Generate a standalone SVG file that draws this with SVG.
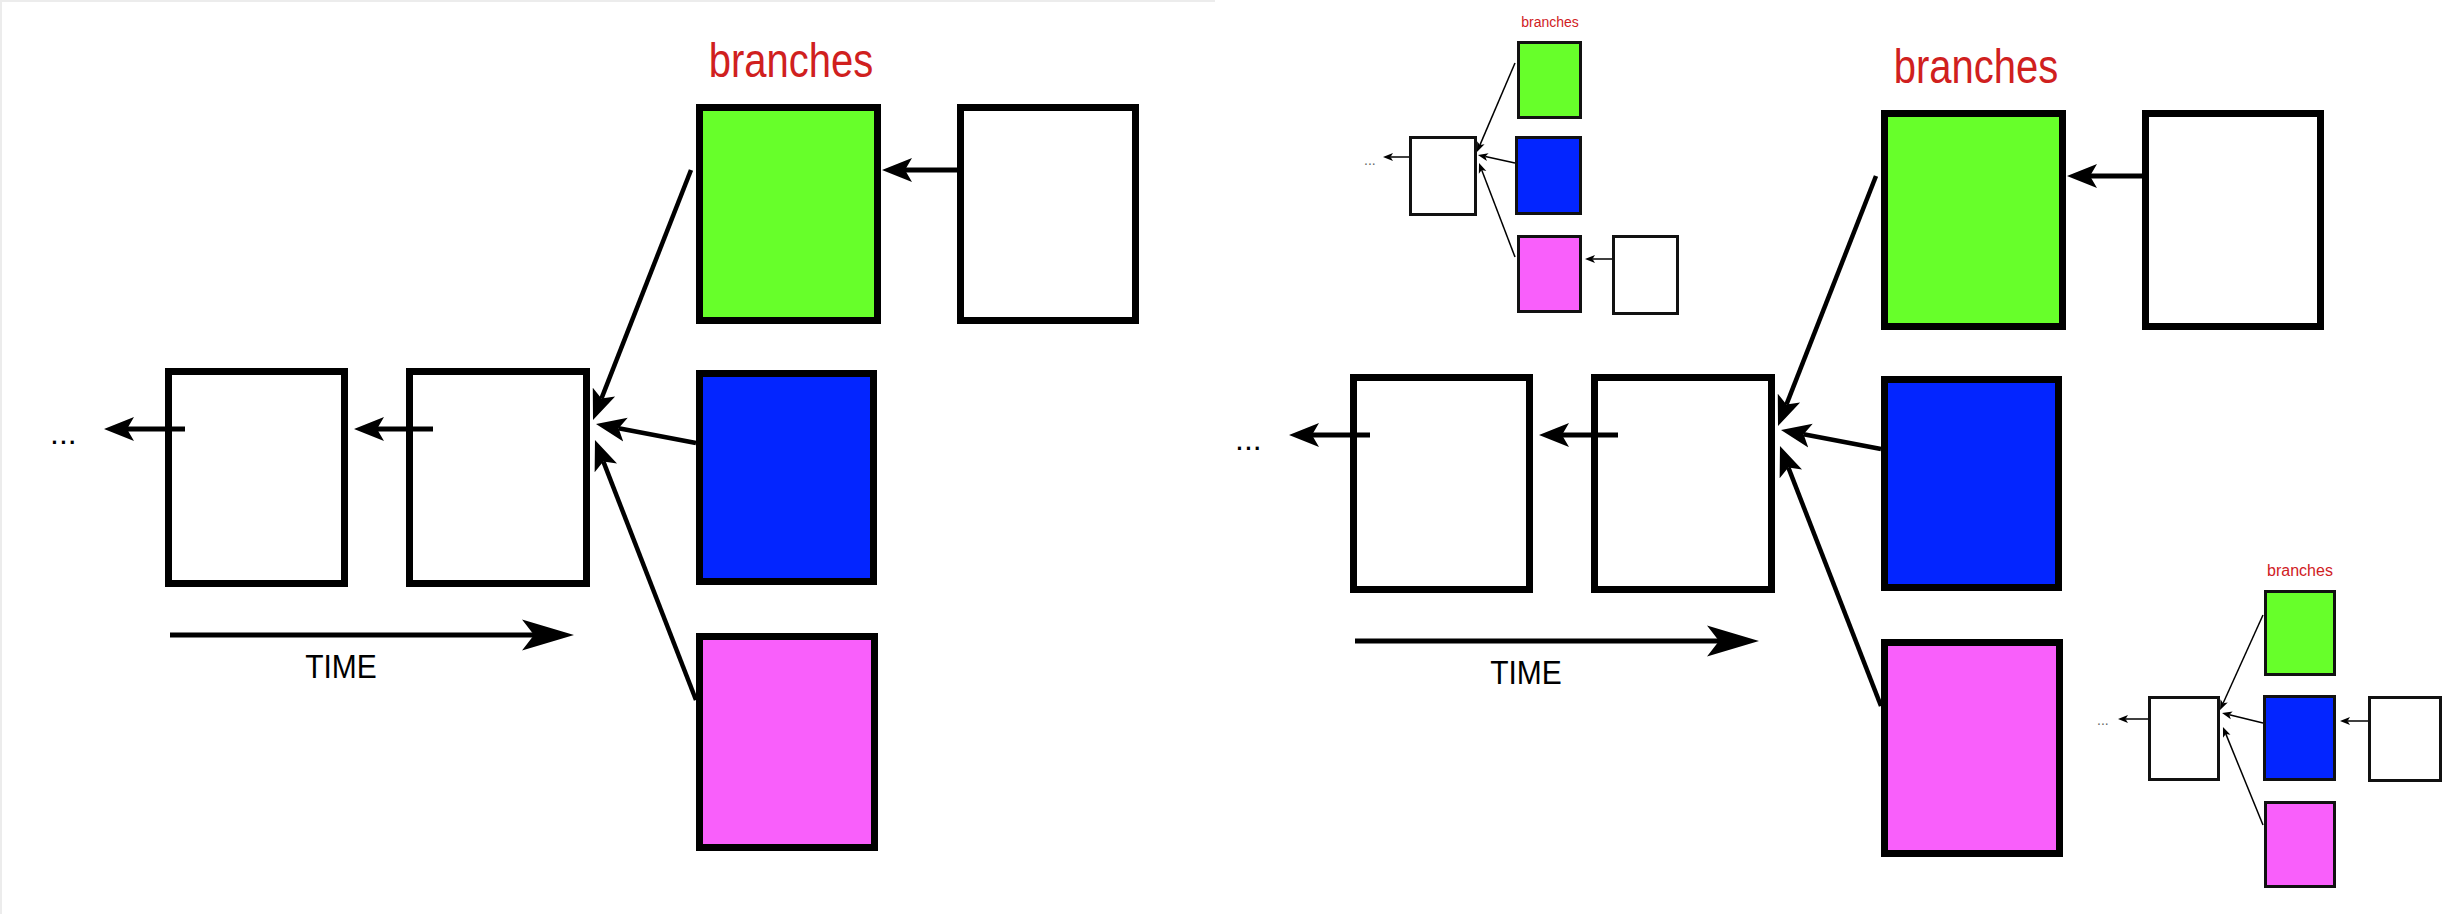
<svg xmlns="http://www.w3.org/2000/svg" width="2459" height="914" viewBox="0 0 2459 914">
<defs>
<style>
.bg{fill:#ffffff}
.box{stroke:#000;stroke-width:7}
.sbox{stroke:#111;stroke-width:3}
.w{fill:#ffffff}
.g{fill:#67ff2a}
.b{fill:#0325ff}
.p{fill:#f95ffb}
.ln{fill:none;stroke:#000;stroke-width:4.5}
.lnh{fill:none;stroke:#000;stroke-width:5}
.sl{fill:none;stroke:#000;stroke-width:1.5}
.red{font-family:"Liberation Sans",Arial,sans-serif;fill:#d0201e;text-anchor:middle}
.blk{font-family:"Liberation Sans",Arial,sans-serif;fill:#000}
</style>
<marker id="ah" markerUnits="userSpaceOnUse" viewBox="0 -13 31 26" markerWidth="31" markerHeight="26" refX="7" refY="0" orient="auto"><path d="M30,0 L0,-12 L7,0 L0,12 Z" fill="#000"/></marker>
<marker id="ah-time" markerUnits="userSpaceOnUse" viewBox="0 -16 53 32" markerWidth="53" markerHeight="32" refX="12" refY="0" orient="auto"><path d="M52,0 L0,-15.5 L12,0 L0,15.5 Z" fill="#000"/></marker>
<marker id="ah-s" markerUnits="userSpaceOnUse" viewBox="0 -5 11 10" markerWidth="11" markerHeight="10" refX="2.5" refY="0" orient="auto"><path d="M10,0 L0,-4 L2.5,0 L0,4 Z" fill="#000"/></marker>
</defs>
<rect class="bg" x="0" y="0" width="2459" height="914"/>
<path d="M1,914 V1 H1215" fill="none" stroke="#ececec" stroke-width="2"/>

<!-- left panel -->
<g id="panel-left">
  <g id="L-ellipsis"><text class="blk" x="50" y="444" font-size="32">...</text></g>
  <g id="L-commit-1"><rect class="box w" x="168.5" y="371.5" width="176" height="212"/></g>
  <g id="L-commit-2"><rect class="box w" x="409.5" y="371.5" width="177" height="212"/></g>
  <g id="L-branches-label"><text class="red" font-size="40" transform="translate(791 77) scale(1 1.2)">branches</text></g>
  <g id="L-green"><rect class="box g" x="699.5" y="107.5" width="178" height="213"/></g>
  <g id="L-green-next"><rect class="box w" x="960.5" y="107.5" width="175" height="213"/></g>
  <g id="L-blue"><rect class="box b" x="699.5" y="373.5" width="174" height="208"/></g>
  <g id="L-pink"><rect class="box p" x="699.5" y="636.5" width="175" height="211"/></g>
  <g id="L-time-label"><text class="blk" font-size="30" text-anchor="middle" transform="translate(341 678) scale(1 1.1)">TIME</text></g>
</g>

<!-- right panel -->
<g id="panel-right" transform="translate(1185 6)">
  <g id="R-ellipsis"><text class="blk" x="50" y="444" font-size="32">...</text></g>
  <g id="R-commit-1"><rect class="box w" x="168.5" y="371.5" width="176" height="212"/></g>
  <g id="R-commit-2"><rect class="box w" x="409.5" y="371.5" width="177" height="212"/></g>
  <g id="R-branches-label"><text class="red" font-size="40" transform="translate(791 77) scale(1 1.2)">branches</text></g>
  <g id="R-green"><rect class="box g" x="699.5" y="107.5" width="178" height="213"/></g>
  <g id="R-green-next"><rect class="box w" x="960.5" y="107.5" width="175" height="213"/></g>
  <g id="R-blue"><rect class="box b" x="699.5" y="373.5" width="174" height="208"/></g>
  <g id="R-pink"><rect class="box p" x="699.5" y="636.5" width="175" height="211"/></g>
  <g id="R-time-label"><text class="blk" font-size="30" text-anchor="middle" transform="translate(341 678) scale(1 1.1)">TIME</text></g>
</g>

<!-- top inset -->
<g id="inset-top">
  <g id="T-ellipsis"><text class="blk" x="1364" y="165" font-size="14" style="fill:#666">...</text></g>
  <g id="T-commit"><rect class="sbox w" x="1410.5" y="137.5" width="65" height="77"/></g>
  <g id="T-branches-label"><text class="red" x="1550" y="27" font-size="14">branches</text></g>
  <g id="T-green"><rect class="sbox g" x="1518.5" y="42.5" width="62" height="75"/></g>
  <g id="T-blue"><rect class="sbox b" x="1516.5" y="137.5" width="64" height="76"/></g>
  <g id="T-pink"><rect class="sbox p" x="1518.5" y="236.5" width="62" height="75"/></g>
  <g id="T-pink-next"><rect class="sbox w" x="1613.5" y="236.5" width="64" height="77"/></g>
</g>

<!-- bottom inset -->
<g id="inset-bottom">
  <g id="B-ellipsis"><text class="blk" x="2097" y="725" font-size="14" style="fill:#666">...</text></g>
  <g id="B-commit"><rect class="sbox w" x="2149.5" y="697.5" width="69" height="82"/></g>
  <g id="B-branches-label"><text class="red" x="2300" y="576" font-size="16">branches</text></g>
  <g id="B-green"><rect class="sbox g" x="2265.5" y="591.5" width="69" height="83"/></g>
  <g id="B-blue"><rect class="sbox b" x="2264.5" y="696.5" width="70" height="83"/></g>
  <g id="B-blue-next"><rect class="sbox w" x="2369.5" y="697.5" width="71" height="83"/></g>
  <g id="B-pink"><rect class="sbox p" x="2265.5" y="802.5" width="69" height="84"/></g>
</g>

<!-- connectors (drawn on top of nodes) -->
<g id="connectors">
  <g id="connectors-left">
    <line class="lnh" x1="185" y1="429" x2="127" y2="429" marker-end="url(#ah)"/>
    <line class="lnh" x1="433" y1="429" x2="377" y2="429" marker-end="url(#ah)"/>
    <line class="ln" x1="691" y1="170" x2="601.4" y2="398.6" marker-end="url(#ah)"/>
    <line class="ln" x1="696" y1="443" x2="618.6" y2="428.3" marker-end="url(#ah)"/>
    <line class="ln" x1="696" y1="700" x2="603.3" y2="461.4" marker-end="url(#ah)"/>
    <line class="lnh" x1="958" y1="170" x2="905" y2="170" marker-end="url(#ah)"/>
    <line class="lnh" x1="170" y1="635" x2="534" y2="635" stroke-width="6" marker-end="url(#ah-time)"/>
  </g>
  <g id="connectors-right" transform="translate(1185 6)">
    <line class="lnh" x1="185" y1="429" x2="127" y2="429" marker-end="url(#ah)"/>
    <line class="lnh" x1="433" y1="429" x2="377" y2="429" marker-end="url(#ah)"/>
    <line class="ln" x1="691" y1="170" x2="601.4" y2="398.6" marker-end="url(#ah)"/>
    <line class="ln" x1="696" y1="443" x2="618.6" y2="428.3" marker-end="url(#ah)"/>
    <line class="ln" x1="696" y1="700" x2="603.3" y2="461.4" marker-end="url(#ah)"/>
    <line class="lnh" x1="958" y1="170" x2="905" y2="170" marker-end="url(#ah)"/>
    <line class="lnh" x1="170" y1="635" x2="534" y2="635" stroke-width="6" marker-end="url(#ah-time)"/>
  </g>
  <g id="connectors-inset-top">
    <line class="sl" x1="1409" y1="157" x2="1390.5" y2="157" marker-end="url(#ah-s)"/>
    <line class="sl" x1="1515" y1="63" x2="1479.9" y2="145.1" marker-end="url(#ah-s)"/>
    <line class="sl" x1="1515" y1="163" x2="1485.3" y2="156.6" marker-end="url(#ah-s)"/>
    <line class="sl" x1="1515" y1="257" x2="1481.7" y2="170" marker-end="url(#ah-s)"/>
    <line class="sl" x1="1612" y1="259" x2="1592.5" y2="259" marker-end="url(#ah-s)"/>
  </g>
  <g id="connectors-inset-bottom">
    <line class="sl" x1="2148" y1="719" x2="2125.5" y2="719" marker-end="url(#ah-s)"/>
    <line class="sl" x1="2263" y1="615" x2="2223.1" y2="703.2" marker-end="url(#ah-s)"/>
    <line class="sl" x1="2263" y1="723" x2="2229.3" y2="714.8" marker-end="url(#ah-s)"/>
    <line class="sl" x1="2263" y1="825" x2="2225.8" y2="733.9" marker-end="url(#ah-s)"/>
    <line class="sl" x1="2368" y1="721" x2="2347.5" y2="721" marker-end="url(#ah-s)"/>
  </g>
</g>
</svg>
